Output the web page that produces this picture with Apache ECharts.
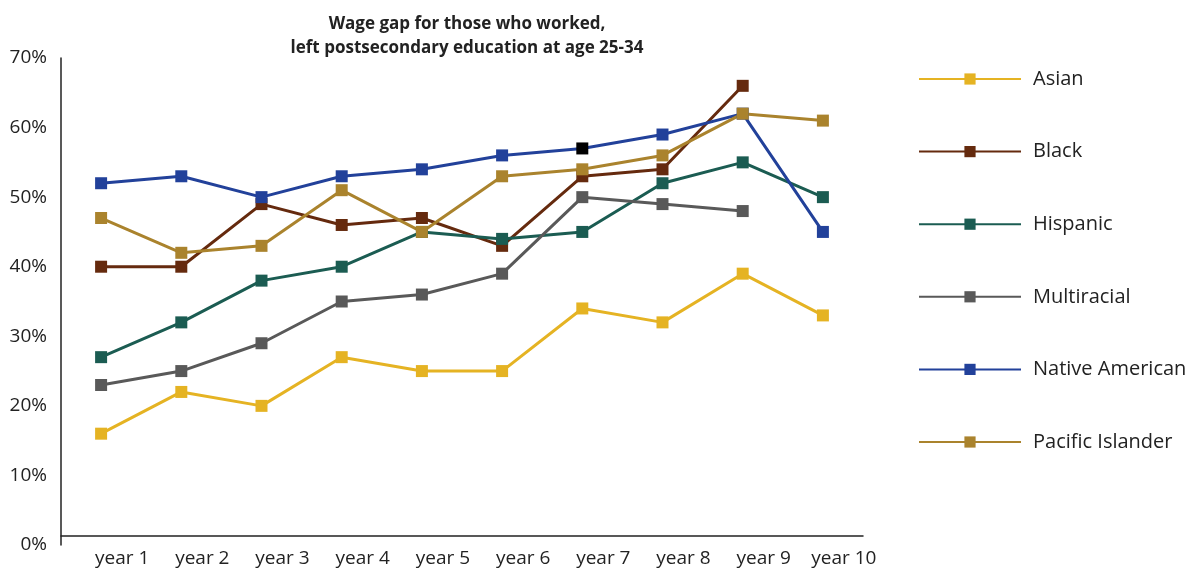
<!DOCTYPE html>
<html><head><meta charset="utf-8">
<script src="https://cdn.jsdelivr.net/npm/echarts@6/dist/echarts.min.js"></script>
<style>html,body{margin:0;padding:0;background:#fff}#c{width:1189px;height:571px}</style>
</head><body><div id="c"></div>
<script>
const categories = ['year 1','year 2','year 3','year 4','year 5','year 6','year 7','year 8','year 9','year 10'];
const asian = [16, 22, 20, 27, 25, 25, 34, 32, 39, 33];
const black = [40, 40, 49, 46, 47, 43, 53, 54, 66, null];
const hispanic = [27, 32, 38, 40, 45, 44, 45, 52, 55, 50];
const multiracial = [23, 25, 29, 35, 36, 39, 50, 49, 48, null];
const nativeAmerican = [52, 53, 50, 53, 54, 56, 57, 59, 62, 45];
const pacificIslander = [47, 42, 43, 51, 45, 53, 54, 56, 62, 61];
const names = ['Asian','Black','Hispanic','Multiracial','Native American','Pacific Islander'];
const colors = ['#E5B323','#652A0E','#1B5C52','#595959','#22419A','#AA832D'];
const values = [asian, black, hispanic, multiracial, nativeAmerican, pacificIslander];
const font = '"Open Sans", "Noto Sans", sans-serif';

const series = names.map((n, i) => ({
  name: n, type: 'line', data: values[i].map((v, j) => {
    if (n === 'Native American' && j === 6) return {value: v, itemStyle: {color: '#000'}};
    return v;
  }),
  symbol: 'rect', symbolSize: 12, showAllSymbol: true,
  lineStyle: {color: colors[i], width: 3},
  itemStyle: {color: colors[i]},
  emphasis: {disabled: true}
}));

const chart = echarts.init(document.getElementById('c'), null, {renderer: 'canvas'});
chart.setOption({
  animation: false,
  textStyle: {fontFamily: font},
  title: {
    text: 'Wage gap for those who worked,\nleft postsecondary education at age 25-34',
    left: 462, top: 7, textAlign: 'center',
    textStyle: {fontFamily: font, fontWeight: 'bold', fontSize: 17, color: '#222', lineHeight: 24}
  },
  legend: {
    orient: 'vertical', left: 913, top: 64, itemGap: 52.6,
    itemWidth: 102, itemHeight: 14,
    textStyle: {fontFamily: font, fontSize: 20, color: '#222', padding: [0,0,0,7]},
    data: names
  },
  grid: {left: 61, right: 326, top: 58, bottom: 26, containLabel: false},
  xAxis: {
    type: 'category', data: categories, boundaryGap: true, offset: -9,
    axisLine: {lineStyle: {color: '#222', width: 1.5}},
    axisTick: {show: false},
    axisLabel: {fontFamily: font, fontSize: 19, color: '#222', margin: 13, padding: [0,0,0,42], interval: 0, hideOverlap: false}
  },
  yAxis: {
    type: 'value', min: 0, max: 70, interval: 10,
    axisLine: {show: true, lineStyle: {color: '#222', width: 1.5}},
    axisTick: {show: false},
    splitLine: {show: false},
    axisLabel: {fontFamily: font, fontSize: 19, color: '#222', margin: 14, formatter: '{value}%'}
  },
  series: series
});
</script></body></html>
